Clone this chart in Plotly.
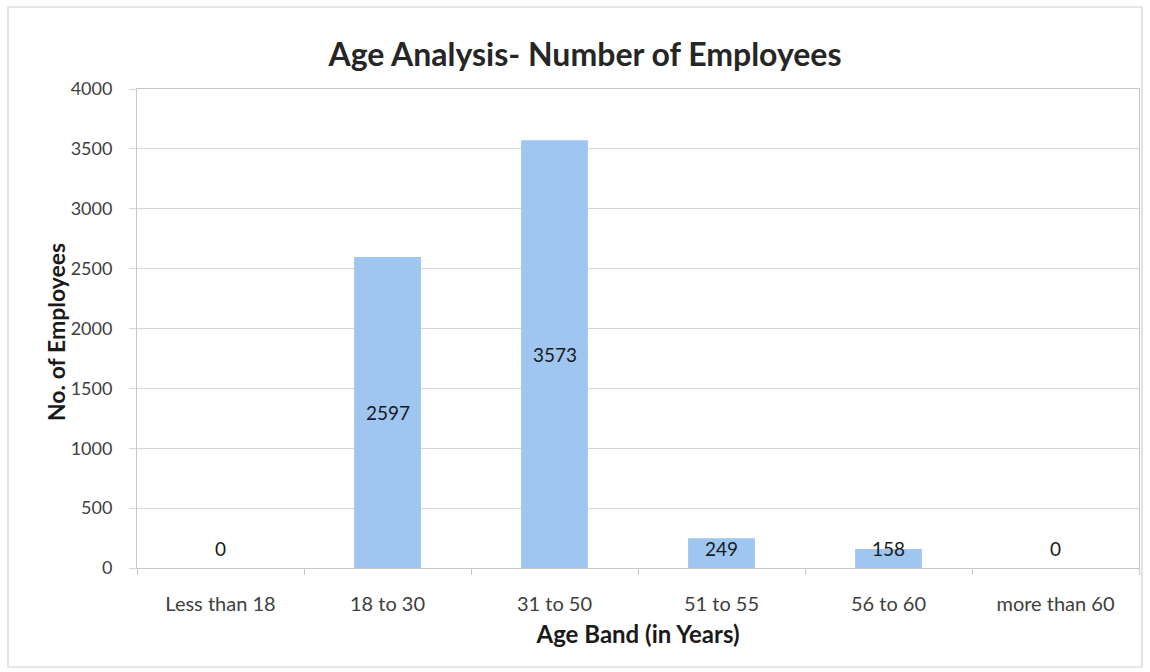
import plotly.graph_objects as go

categories = ["Less than 18", "18 to 30", "31 to 50", "51 to 55", "56 to 60", "more than 60"]
employees = [0, 2597, 3573, 249, 158, 0]
y_ticks = [0, 500, 1000, 1500, 2000, 2500, 3000, 3500, 4000]

W, H = 1150, 672
L, R, T, B = 137, 11, 89, 104
pw = W - L - R
ph = H - T - B

FONT = "Lato, Carlito, Calibri, 'Open Sans', sans-serif"
BAR = "#9EC6F0"

fig = go.Figure()
fig.add_trace(go.Bar(
    x=categories, y=employees, marker=dict(color=BAR, line=dict(width=0)),
    width=0.4, hoverinfo="x+y",
))

# data labels: centred in bar, but kept above a minimum height (Excel-like)
min_label = 165
for c, v in zip(categories, employees):
    fig.add_annotation(x=c, y=max(v / 2, min_label), text=str(v), showarrow=False,
                       font=dict(family=FONT, size=19, color="#1a1a1a"),
                       xref="x", yref="y")

# y-axis title as annotation
fig.add_annotation(text="<b>No. of Employees</b>", textangle=-90, showarrow=False,
                   xref="paper", yref="paper", x=(56 - L) / pw, y=(H - B - 332) / ph,
                   xanchor="center", yanchor="middle",
                   font=dict(family=FONT, size=23, color="#1a1a1a"))

# outer chart border
fig.add_shape(type="rect", xref="paper", yref="paper",
              x0=(8 - L) / pw, x1=(1142 - L) / pw,
              y0=(H - B - 667) / ph, y1=(H - B - 7) / ph,
              line=dict(color="#D0D0D0", width=1.2), fillcolor="rgba(0,0,0,0)", layer="below")

fig.update_layout(
    width=W, height=H,
    margin=dict(l=L, r=R, t=T, b=B),
    paper_bgcolor="white", plot_bgcolor="white",
    showlegend=False,
    font=dict(family=FONT, color="#333333"),
    title=dict(text="<b>Age Analysis- Number of Employees</b>", x=585 / W, xanchor="center",
               y=1 - 55 / H, yanchor="middle",
               font=dict(family=FONT, size=32, color="#262626")),
    bargap=0.6,
)
fig.update_yaxes(
    range=[0, 4000], tickvals=y_ticks, ticktext=[str(t) for t in y_ticks],
    showgrid=True, gridcolor="#D6D6D6", gridwidth=1,
    ticks="outside", ticklen=7, tickcolor="#D6D6D6", ticklabelstandoff=13,
    showline=True, linecolor="#C8C8C8", linewidth=1, mirror=True,
    zeroline=False,
    tickfont=dict(family=FONT, size=18, color="#404040"),
)
fig.update_xaxes(
    showgrid=False, ticks="outside", tickson="boundaries", ticklen=6, tickcolor="#C8C8C8",
    ticklabelstandoff=18,
    showline=True, linecolor="#C8C8C8", linewidth=1, mirror=True,
    tickfont=dict(family=FONT, size=20, color="#404040"),
    title=dict(text="<b>Age Band (in Years)</b>", standoff=12,
               font=dict(family=FONT, size=24, color="#1a1a1a")),
)

fig.write_html("out.html")
